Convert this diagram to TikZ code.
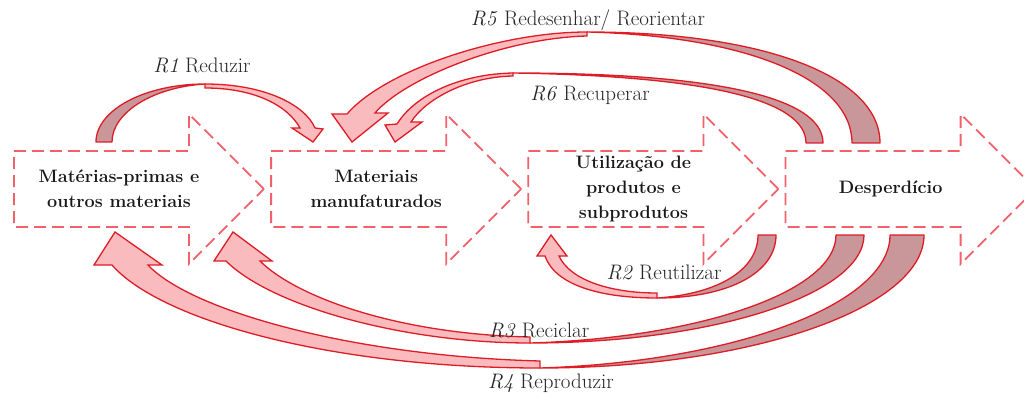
\documentclass[tikz,border=0pt]{standalone}
\usepackage{fontspec}
\usepackage{tikz}
\usetikzlibrary{shapes.arrows, positioning}
\definecolor{dashred}{RGB}{242,96,106}
\definecolor{ringred}{RGB}{222,28,38}
\definecolor{lightrose}{RGB}{249,187,190}
\definecolor{darkrose}{RGB}{201,150,153}
\tikzset{
    blockarrow/.style={single arrow, draw=dashred, line width=1.8pt,
        dash pattern=on 12pt off 6pt, minimum height=250pt,
        text height=37pt, text depth=37pt, inner sep=0pt,
        single arrow head extend=37pt}, % the four dashed stage arrows
    boxtext/.style={font=\fontsize{18}{25}\selectfont\bfseries, align=center, text=black!90},
    looptext/.style={font=\fontsize{21}{24}\selectfont, text=black!85},
    backface/.style={fill=darkrose, draw=ringred, line width=1.3pt, line join=round}, % rising part of a loop
    frontface/.style={fill=lightrose, draw=ringred, line width=1.3pt}, % falling part with the head
}

\begin{document}
\begin{tikzpicture}[x=1pt, y=-1pt]
    \useasboundingbox (0,0) rectangle (1024,398);

    % stages
    \node[blockarrow, anchor=tail] (mp) at (13,189) {};
    \node[blockarrow, right=5pt of mp] (mm) {};
    \node[blockarrow, right=5pt of mm] (up) {};
    \node[blockarrow, right=5pt of up] (dp) {};

    \node[boxtext] (mptext) at ([xshift=106pt]mp.tail) {Matérias-primas e\\outros materiais};
    \node[boxtext] (mmtext) at ([xshift=106pt]mm.tail) {Materiais\\manufaturados};
    \node[boxtext] (uptext) at ([xshift=106pt]up.tail) {Utilização de\\produtos e\\subprodutos};
    \node[boxtext] (dptext) at ([xshift=106pt]dp.tail) {Desperdício};

    % R1
    \draw[backface] (96,142) .. controls (96,110) and (145,84) .. (205,84)
        .. controls (154,87) and (112,112) .. (112,142) -- cycle;
    \draw[frontface] (205,84) .. controls (265,84) and (305,105) .. (315,128)
        -- (323,129) -- (313,142) -- (292,128) -- (300,128)
        .. controls (288,106) and (255,88) .. (205,88) -- cycle;

    % R5
    \draw[backface] (880,143) .. controls (880,76) and (763,32) .. (587,32)
        .. controls (746,36) and (852,79) .. (852,143) -- cycle;
    \draw[frontface] (587,32) .. controls (500,32) and (385,70) .. (347,114)
        -- (332,114) -- (352,142) -- (388,113) -- (375,113)
        .. controls (405,78) and (505,38) .. (587,36) -- cycle;

    % R6
    \draw[backface] (823,143) .. controls (823,97) and (714,73) .. (513,73)
        .. controls (703,76) and (806,99) .. (806,143) -- cycle;
    \draw[frontface] (513,73) .. controls (460,74) and (415,95) .. (397,124)
        -- (385,125) -- (395,142) -- (422,122) -- (411,122)
        .. controls (425,100) and (465,77) .. (513,76) -- cycle;

    % R2
    \draw[backface] (776,235) .. controls (776,273) and (728,298) .. (657,298)
        .. controls (718,294) and (758,270) .. (758,235) -- cycle;
    \draw[frontface] (657,298) .. controls (600,298) and (555,285) .. (545,256)
        -- (537,256) -- (551,235) -- (567,256) -- (559,256)
        .. controls (570,280) and (610,293) .. (657,293) -- cycle;

    % R3
    \draw[backface] (864,235) .. controls (864,294) and (714,343) .. (530,343)
        .. controls (698,338) and (836,292) .. (836,235) -- cycle;
    \draw[frontface] (530,343) .. controls (400,343) and (270,305) .. (226,261)
        -- (214,261) -- (233,232) -- (272,261) -- (260,261)
        .. controls (295,296) and (395,334) .. (530,337) -- cycle;

    % R4
    \draw[backface] (924,235) .. controls (924,308) and (751,368) .. (540,368)
        .. controls (732,362) and (890,305) .. (890,235) -- cycle;
    \draw[frontface] (540,368) .. controls (330,368) and (160,320) .. (112,265)
        -- (94,265) -- (115,232) -- (162,265) -- (148,265)
        .. controls (190,310) and (350,356) .. (540,361) -- cycle;

    % loop labels
    \node[looptext] (r1) at (202,65) {\textit{R1} Reduzir};
    \node[looptext] (r5) at (588,20) {\textit{R5} Redesenhar/ Reorientar};
    \node[looptext] (r6) at (590,95) {\textit{R6} Recuperar};
    \node[looptext] (r2) at (664,272) {\textit{R2} Reutilizar};
    \node[looptext] (r3) at (539,330) {\textit{R3} Reciclar};
    \node[looptext] (r4) at (551,383) {\textit{R4} Reproduzir};
\end{tikzpicture}
\end{document}
